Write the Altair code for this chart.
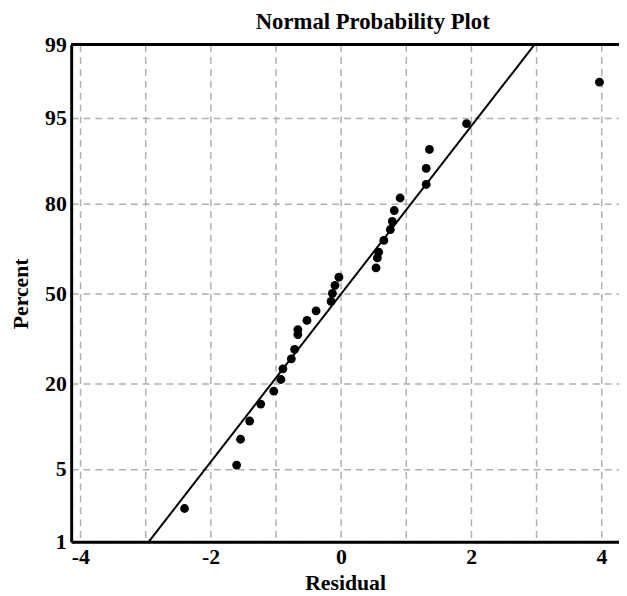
import altair as alt
import pandas as pd
from statistics import NormalDist

# ---- data ----
residual = [-2.40, -1.60, -1.54, -1.40, -1.23, -1.03, -0.92, -0.89, -0.76, -0.71,
            -0.66, -0.66, -0.52, -0.38, -0.15, -0.13, -0.09, -0.03, 0.54, 0.56,
            0.58, 0.66, 0.76, 0.79, 0.82, 0.91, 1.31, 1.31, 1.36, 1.93, 3.97]
percent = [2.2, 5.4, 8.6, 11.6, 15.0, 18.0, 21.0, 24.0, 27.0, 30.0,
           35.0, 36.7, 40.0, 43.5, 47.0, 50.0, 53.0, 56.0, 59.4, 63.0,
           65.0, 69.0, 72.5, 75.0, 78.1, 81.4, 84.6, 87.9, 91.1, 94.4, 97.6]

line_residual = [-2.95, 2.97]
line_percent = [1.0, 99.0]

y_tick_percent = [1, 5, 20, 50, 80, 95, 99]
x_grid_values = [-4, -3, -2, -1, 0, 1, 2, 3, 4]

nd = NormalDist()
def z(p):
    return nd.inv_cdf(p / 100.0)

pts = pd.DataFrame({"residual": residual, "z": [z(p) for p in percent], "percent": percent})
ln = pd.DataFrame({"residual": line_residual, "z": [z(p) for p in line_percent]})

y_ticks = [z(p) for p in y_tick_percent]
# label expression mapping z back to percent label
expr = "'" + str(y_tick_percent[-1]) + "'"
for i in range(len(y_ticks) - 2, -1, -1):
    mid = (y_ticks[i] + y_ticks[i + 1]) / 2
    expr = f"datum.value < {mid:.4f} ? '{y_tick_percent[i]}' : ({expr})"

FONT = "Liberation Serif"
W, H = 555, 503.5
FS = 22

xscale = alt.Scale(domain=[-4.14, 4.27], nice=False, zero=False)
yscale = alt.Scale(domain=[y_ticks[0], y_ticks[-1]], nice=False, zero=False)

xaxis = alt.Axis(values=x_grid_values,
                 labelExpr="datum.value % 2 == 0 ? '' + datum.value : ''",
                 title="Residual", grid=True, gridDash=[7, 5], gridColor="#b0b0b0", gridWidth=1.5,
                 ticks=False, domainColor="black", domainWidth=3, labelPadding=5,
                 labelFont=FONT, labelFontSize=FS, labelFontWeight="bold", labelColor="black",
                 titleFont=FONT, titleFontSize=FS, titleFontWeight="bold", titleColor="black",
                 titlePadding=5, labelFlush=False)
yaxis = alt.Axis(values=y_ticks, labelExpr=expr, title="Percent", grid=True,
                 gridDash=[7, 5], gridColor="#b0b0b0", gridWidth=1.5,
                 ticks=False, domainColor="black", domainWidth=3, labelPadding=5,
                 labelFont=FONT, labelFontSize=FS, labelFontWeight="bold", labelColor="black",
                 titleFont=FONT, titleFontSize=FS, titleFontWeight="bold", titleColor="black",
                 titlePadding=12, labelFlush=False)

points = alt.Chart(pts).mark_circle(size=80, color="black", opacity=1).encode(
    x=alt.X("residual:Q", scale=xscale, axis=xaxis),
    y=alt.Y("z:Q", scale=yscale, axis=yaxis),
)
fit = alt.Chart(ln).mark_line(color="black", strokeWidth=2).encode(
    x=alt.X("residual:Q", scale=xscale),
    y=alt.Y("z:Q", scale=yscale),
)
top = alt.Chart(pts).mark_rule(color="black", strokeWidth=2.5).encode(
    x=alt.value(0), x2=alt.value(W), y=alt.value(0)
)

chart = alt.layer(fit, points, top).properties(
    width=W, height=H,
    autosize=alt.AutoSizeParams(type="none"),
    padding={"left": 64, "top": 33.5, "right": 0, "bottom": 50},
    title=alt.TitleParams("Normal Probability Plot", font=FONT, fontSize=23, fontWeight="bold",
                          color="black", anchor="middle", dx=28, offset=0),
).configure_view(strokeWidth=0)

chart.save("out.html", embed_options={"renderer": "svg", "actions": False})
